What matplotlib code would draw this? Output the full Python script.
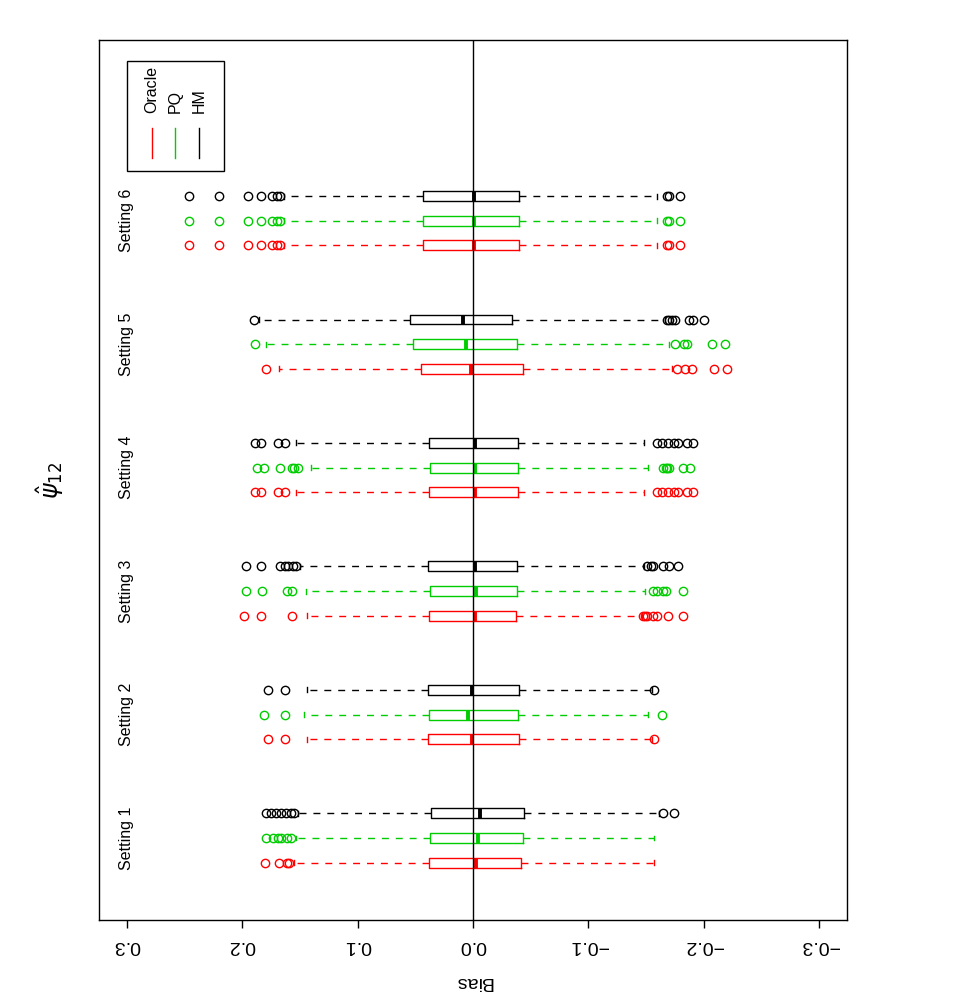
import matplotlib.pyplot as plt
from matplotlib.patches import Rectangle

plt.rcParams['font.family'] = ['Liberation Sans', 'DejaVu Sans']

settings = ['Setting 1', 'Setting 2', 'Setting 3', 'Setting 4', 'Setting 5', 'Setting 6']
methods = ['Oracle', 'PQ', 'HM']
colors = ['#FF0000', '#00CD00', '#000000']

# box statistics per method, one value per setting (bias of psi_12)
oracle_hi = [0.155, 0.144, 0.144, 0.153, 0.168, 0.164]
oracle_q3 = [0.038, 0.039, 0.038, 0.038, 0.045, 0.043]
oracle_med = [-0.003, 0.001, -0.002, -0.002, 0.002, -0.001]
oracle_q1 = [-0.042, -0.040, -0.037, -0.039, -0.0435, -0.040]
oracle_lo = [-0.157, -0.155, -0.146, -0.148, -0.172, -0.159]
oracle_out = [
    [0.180, 0.168, 0.161, 0.159],
    [0.178, 0.163, -0.157],
    [0.198, 0.184, 0.157, -0.147, -0.149, -0.151, -0.156, -0.159, -0.169, -0.182],
    [0.189, 0.184, 0.169, 0.163, -0.159, -0.164, -0.169, -0.174, -0.178, -0.185, -0.191],
    [0.179, -0.177, -0.184, -0.190, -0.209, -0.220],
    [0.246, 0.220, 0.195, 0.184, 0.174, 0.170, 0.167, -0.168, -0.170, -0.179],
]

pq_hi = [0.153, 0.146, 0.145, 0.140, 0.179, 0.164]
pq_q3 = [0.0375, 0.038, 0.0375, 0.037, 0.052, 0.043]
pq_med = [-0.004, 0.004, -0.003, -0.002, 0.006, -0.001]
pq_q1 = [-0.043, -0.039, -0.038, -0.039, -0.038, -0.040]
pq_lo = [-0.157, -0.152, -0.149, -0.152, -0.170, -0.159]
pq_out = [
    [0.179, 0.173, 0.169, 0.166, 0.161, 0.158],
    [0.181, 0.163, -0.164],
    [0.197, 0.183, 0.161, 0.157, -0.156, -0.159, -0.165, -0.167, -0.182],
    [0.187, 0.181, 0.167, 0.157, 0.155, 0.152, -0.165, -0.167, -0.168, -0.170, -0.182, -0.188],
    [0.189, -0.175, -0.183, -0.185, -0.207, -0.218],
    [0.246, 0.220, 0.195, 0.184, 0.174, 0.170, 0.167, -0.168, -0.170, -0.179],
]

hm_hi = [0.152, 0.144, 0.150, 0.153, 0.185, 0.164]
hm_q3 = [0.036, 0.039, 0.039, 0.038, 0.0545, 0.043]
hm_med = [-0.006, 0.001, -0.002, -0.002, 0.009, -0.001]
hm_q1 = [-0.044, -0.040, -0.038, -0.039, -0.034, -0.040]
hm_lo = [-0.161, -0.155, -0.148, -0.148, -0.1665, -0.159]
hm_out = [
    [0.179, 0.175, 0.171, 0.166, 0.162, 0.158, 0.155, -0.165, -0.174],
    [0.178, 0.163, -0.157],
    [0.197, 0.184, 0.167, 0.163, 0.160, 0.156, 0.153, -0.151, -0.154, -0.156, -0.165, -0.170, -0.178],
    [0.189, 0.184, 0.169, 0.163, -0.159, -0.164, -0.169, -0.174, -0.178, -0.185, -0.191],
    [0.190, -0.168, -0.170, -0.172, -0.175, -0.187, -0.191, -0.200],
    [0.246, 0.220, 0.195, 0.184, 0.174, 0.170, 0.167, -0.168, -0.170, -0.179],
]

tick_vals = [0.3, 0.2, 0.1, 0.0, -0.1, -0.2, -0.3]
tick_labels = ['0.3', '0.2', '0.1', '0.0', '\u22120.1', '\u22120.2', '\u22120.3']

all_stats = [
    (oracle_hi, oracle_q3, oracle_med, oracle_q1, oracle_lo, oracle_out),
    (pq_hi, pq_q3, pq_med, pq_q1, pq_lo, pq_out),
    (hm_hi, hm_q3, hm_med, hm_q1, hm_lo, hm_out),
]

fig = plt.figure(figsize=(9.69, 9.97), dpi=100)
ax = fig.add_axes([99 / 969, 77 / 997, 748 / 969, 880 / 997])

for j, (hi, q3, med, q1, lo, out) in enumerate(all_stats):
    c = colors[j]
    stats = []
    for k in range(len(settings)):
        stats.append(dict(med=med[k], q1=q1[k], q3=q3[k], whislo=lo[k], whishi=hi[k], fliers=out[k]))
    pos = [5 * k + 1 + j for k in range(len(settings))]
    ax.bxp(stats, positions=pos, widths=0.4, capwidths=0.2, orientation='horizontal',
           showfliers=True,
           boxprops=dict(color=c, lw=1),
           whiskerprops=dict(color=c, lw=1, linestyle=(0, (5, 5))),
           capprops=dict(color=c, lw=1),
           medianprops=dict(color=c, lw=2.8, solid_capstyle='butt'),
           flierprops=dict(marker='o', markerfacecolor='none', markeredgecolor=c,
                           markersize=6, markeredgewidth=1, linestyle='none'))

ax.axvline(0, color='black', lw=1, zorder=5)

for k, s in enumerate(settings):
    ax.text(0.3, 5 * k + 2, s, rotation=90, ha='center', va='center', fontsize=11.5)

ax.set_xlim(0.324, -0.324)
ax.set_ylim(-1.32, 34.32)
ax.set_xticks(tick_vals)
ax.set_xticklabels(tick_labels, rotation=180, fontsize=14)
ax.tick_params(axis='x', length=6, width=1, pad=6)
ax.set_yticks([])
ax.set_xlabel('Bias', rotation=180, fontsize=14, labelpad=14)
for sp in ax.spines.values():
    sp.set_linewidth(1)

fig.text(50 / 969, 1 - 480 / 997, r'$\hat{\psi}_{12}$', rotation=90, ha='center', va='center', fontsize=17)

# legend drawn by hand, rotated like the rest of the page
ax.add_patch(Rectangle((0.0374, 0.851), 0.130, 0.125, transform=ax.transAxes,
                       fill=False, edgecolor='black', lw=1))
leg_x = [0.0705, 0.1016, 0.1337]
for j, m in enumerate(methods):
    ax.plot([leg_x[j], leg_x[j]], [0.866, 0.900], color=colors[j], lw=1, transform=ax.transAxes)
    ax.text(leg_x[j], 0.917, m, rotation=90, ha='center', va='bottom', fontsize=11.5,
            transform=ax.transAxes)

plt.savefig('out.png', dpi=100)
